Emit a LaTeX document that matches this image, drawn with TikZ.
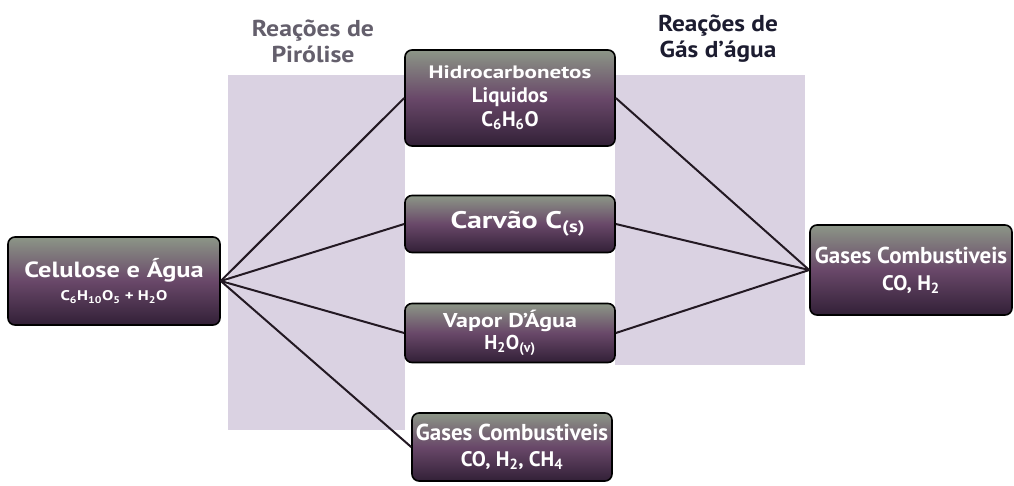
\documentclass[tikz,border=0pt]{standalone}
\usepackage{fontspec}
\usepackage{graphicx}
\setmainfont{PT Sans}
\definecolor{band}{RGB}{218,210,226}
\definecolor{boxtop}{RGB}{140,150,135}
\definecolor{boxmid}{RGB}{105,72,105}
\definecolor{boxbot}{RGB}{50,32,55}
\definecolor{hdrA}{RGB}{100,95,108}
\definecolor{hdrB}{RGB}{28,28,48}
\definecolor{link}{RGB}{35,25,35}
\newcommand{\sub}[1]{\textsubscript{#1}}
\newcommand{\wide}[2]{\scalebox{#1}[1]{#2}}
\tikzset{
  box/.style={draw=black, line width=1.6pt, rounded corners=7pt,
    top color=boxtop, bottom color=boxbot, middle color=boxmid,
    text=white, align=center, inner sep=2pt},
  hdr/.style={font=\bfseries\fontsize{23}{26}\selectfont, align=center},
  conn/.style={draw=link, line width=2pt},
}
\begin{document}
\begin{tikzpicture}[x=1pt,y=-1pt]
\useasboundingbox (0,0) rectangle (1014,485);
\fill[white] (0,0) rectangle (1014,485);
% bands
\fill[band] (228,75) rectangle (405,430);
\fill[band] (615,75) rectangle (805,365);
% headers
\node[hdr, text=hdrA] (h1) at (313,41) {\wide{1.12}{Reações de}\\\wide{1.12}{Pirólise}};
\node[hdr, text=hdrB] (h2) at (718,39) {\wide{1.1}{Reações de}\\\wide{1.1}{Gás d’água}};
% nodes
\node[box, minimum width=212pt, minimum height=88pt,
  font=\bfseries\fontsize{22}{23}\selectfont] (cel) at (114,281)
  {\wide{1.2}{Celulose e Água}\\
   {\fontsize{14}{15}\selectfont \wide{1.2}{C\sub{6}H\sub{10}O\sub{5} + H\sub{2}O}}};
\node[box, minimum width=210pt, minimum height=96pt,
  font=\bfseries\fontsize{21}{24}\selectfont] (hid) at (510,98)
  {{\fontsize{18}{18}\selectfont \wide{1.28}{Hidrocarbonetos}}\\
   Liquidos\\
   C\sub{6}H\sub{6}O};
\node[box, minimum width=210pt, minimum height=57pt,
  font=\bfseries\fontsize{24}{26}\selectfont] (car) at (510,224)
  {\hspace*{16pt}\wide{1.25}{Carvão C\sub{(s)}}};
\node[box, minimum width=210pt, minimum height=59pt,
  font=\bfseries\fontsize{20}{22}\selectfont] (vap) at (510,333)
  {\wide{1.2}{Vapor D’Água}\\
   H\sub{2}O\sub{(v)}};
\node[box, minimum width=200pt, minimum height=68pt,
  font=\bfseries\fontsize{23}{26}\selectfont] (gb) at (512,447)
  {Gases Combustiveis\\
   {\fontsize{21}{22}\selectfont CO, H\sub{2}, CH\sub{4}}};
\node[box, minimum width=202pt, minimum height=90pt,
  font=\bfseries\fontsize{23}{27}\selectfont] (gr) at (911,270)
  {Gases Combustiveis\\
   {\fontsize{21}{22}\selectfont CO, H\sub{2}}};
% connectors
\draw[conn] (cel.east) -- (hid.west);
\draw[conn] (cel.east) -- (car.west);
\draw[conn] (cel.east) -- (vap.west);
\draw[conn] (cel.east) -- (gb.west);
\draw[conn] (hid.east) -- (gr.west);
\draw[conn] (car.east) -- (gr.west);
\draw[conn] (vap.east) -- (gr.west);
\end{tikzpicture}
\end{document}
